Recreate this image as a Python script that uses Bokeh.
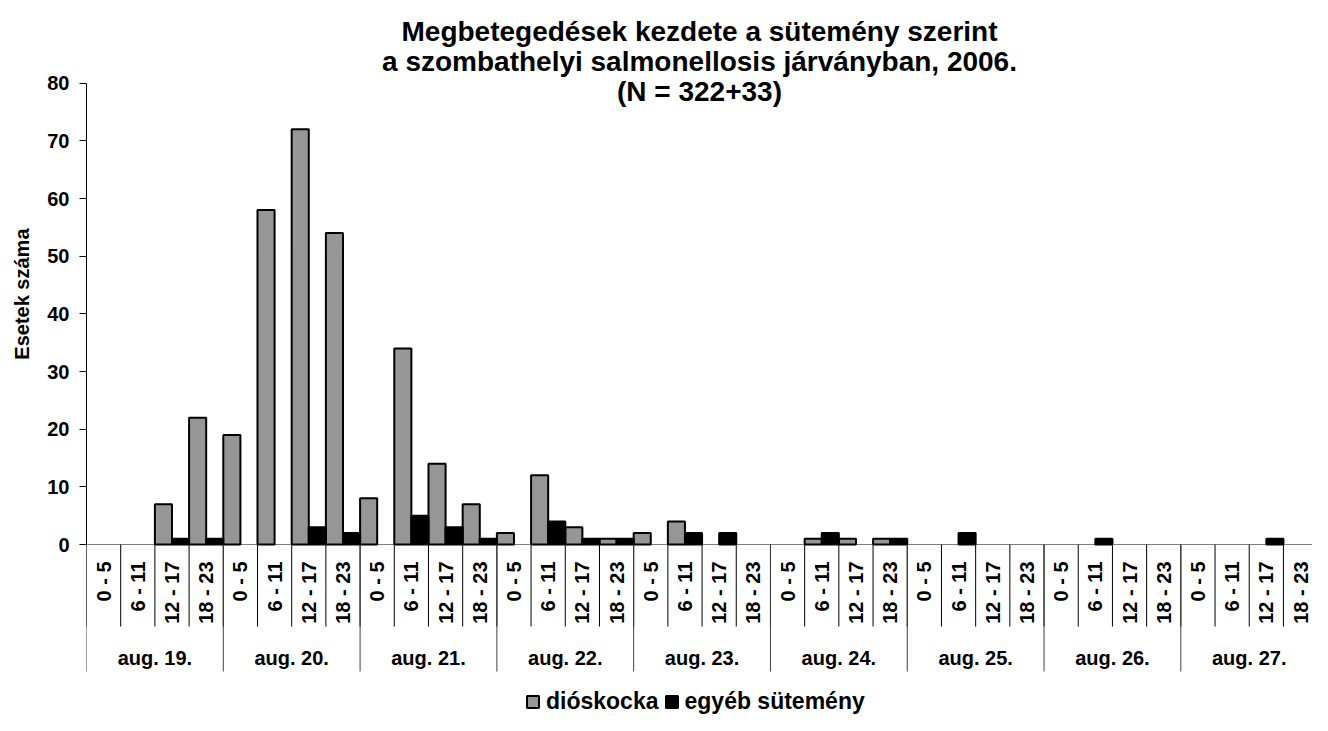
import math
from bokeh.plotting import figure
from bokeh.models import (ColumnDataSource, Range1d, FixedTicker, Legend,
                          LegendItem, Span, Title)
from bokeh.core.properties import value
from bokeh.embed import file_html
from bokeh.resources import INLINE

# ---------------- data ----------------
days = ["aug. 19.", "aug. 20.", "aug. 21.", "aug. 22.", "aug. 23.",
        "aug. 24.", "aug. 25.", "aug. 26.", "aug. 27."]
slots = ["0 - 5", "6 - 11", "12 - 17", "18 - 23"]
dioskocka = [0, 0, 7, 22,   19, 58, 72, 54,   8, 34, 14, 7,   2, 12, 3, 1,
             2, 4, 0, 0,    0, 1, 1, 1,       0, 0, 0, 0,     0, 0, 0, 0,
             0, 0, 0, 0]
egyeb = [0, 0, 1, 1,   0, 0, 3, 2,   0, 5, 3, 1,   0, 4, 1, 1,
         0, 2, 2, 0,   0, 2, 0, 1,   0, 2, 0, 0,   0, 1, 0, 0,
         0, 0, 1, 0]
series_names = ["dióskocka", "egyéb sütemény"]
y_ticks = [0, 10, 20, 30, 40, 50, 60, 70, 80]
title_lines = ["Megbetegedések kezdete a sütemény szerint",
               "a szombathelyi salmonellosis járványban, 2006.",
               "(N = 322+33)"]
y_label = "Esetek száma"

# ---------------- style ----------------
FONT = "Liberation Sans"
GRAY = "#969696"
n = len(dioskocka)
per_day = len(slots)
y_max = y_ticks[-1]

W, H = 1312, 715
LEFT = 86
ZERO_PX = 544.0
PX_PER_UNIT = (ZERO_PX - 82.7) / y_max
X_END = 35.85


def ypos(px):
    """convert a vertical pixel position in the figure to a data value"""
    return (ZERO_PX - px) / PX_PER_UNIT


p = figure(width=W, height=H,
           x_range=Range1d(0, X_END),
           y_range=Range1d(ypos(H), ypos(0)),
           x_axis_type=None, output_backend="svg", toolbar_location=None,
           min_border_left=LEFT, min_border_right=0, min_border_top=0,
           min_border_bottom=0)
p.xgrid.visible = False
p.ygrid.visible = False
p.outline_line_color = None
p.background_fill_color = "white"
p.border_fill_color = "white"

yax = p.yaxis[0]
yax.ticker = FixedTicker(ticks=y_ticks)
yax.bounds = (0, y_max)
yax.major_tick_out = 7
yax.major_tick_in = 0
yax.minor_tick_out = 0
yax.minor_tick_in = 0
yax.axis_line_color = "black"
yax.major_tick_line_color = "black"
yax.major_label_text_font = FONT
yax.major_label_text_font_size = "20px"
yax.major_label_text_font_style = "bold"
yax.major_label_text_color = "black"
yax.major_label_standoff = 10

# y axis title, placed on the left side next to the axis
p.add_layout(Title(text=y_label, align="right", offset=228,
                   vertical_align="top", standoff=20,
                   text_font=FONT, text_font_size="20px",
                   text_font_style="bold", text_color="black"), "left")

# baseline
p.add_layout(Span(location=0, dimension="width", line_color="#808080",
                  line_width=1, level="underlay"))

# bars
idx = list(range(n))
src = ColumnDataSource(dict(
    x1=[i + 0.25 for i in idx], x2=[i + 0.75 for i in idx],
    d=dioskocka, e=egyeb,
    da=[1.0 if v > 0 else 0.0 for v in dioskocka],
    ea=[1.0 if v > 0 else 0.0 for v in egyeb],
))
r1 = p.vbar(x="x1", top="d", bottom=0, width=0.5, source=src,
            fill_color=GRAY, line_color="black", line_width=2, line_alpha="da")
r2 = p.vbar(x="x2", top="e", bottom=0, width=0.5, source=src,
            fill_color="black", line_color="black", line_width=2, line_alpha="ea")

# category separators
bounds_all = list(range(n + 1))
p.segment(x0=bounds_all, y0=[0] * len(bounds_all), x1=bounds_all,
          y1=[ypos(626)] * len(bounds_all), line_color="black", line_width=1)
bounds_day = list(range(0, n + 1, per_day))
p.segment(x0=bounds_day, y0=[0] * len(bounds_day), x1=bounds_day,
          y1=[ypos(671)] * len(bounds_day), line_color="#404040", line_width=1)

# slot labels
p.text(x=[i + 0.5 for i in idx], y=[ypos(561)] * n,
       text=[slots[i % per_day] for i in idx], angle=math.pi / 2,
       text_align="right", text_baseline="middle",
       text_font=value(FONT), text_font_size="20px", text_font_style="bold",
       text_color="black")
# day labels
p.text(x=[d * per_day + per_day / 2 for d in range(len(days))],
       y=[ypos(657)] * len(days), text=days, text_align="center",
       text_baseline="middle", text_font=value(FONT), text_font_size="20px",
       text_font_style="bold", text_color="black")

# title
xc = (p.x_range.start + p.x_range.end) / 2
p.text(x=[xc] * 3, y=[ypos(31), ypos(61), ypos(91)], text=title_lines,
       text_align="center", text_baseline="alphabetic",
       text_font=value(FONT), text_font_size="28px", text_font_style="bold",
       text_color="black")

# legend
i_d = next(i for i, v in enumerate(dioskocka) if v > 0)
i_e = next(i for i, v in enumerate(egyeb) if v > 0)
legend = Legend(items=[LegendItem(label=series_names[0], renderers=[r1], index=i_d),
                       LegendItem(label=series_names[1], renderers=[r2], index=i_e)],
                orientation="horizontal", location=(525 - LEFT, 0),
                margin=0, padding=0, spacing=5, glyph_width=15, glyph_height=15,
                label_standoff=6, label_height=22, label_text_font=FONT,
                label_text_font_size="23px", label_text_font_style="bold",
                label_text_color="black",
                border_line_color=None, background_fill_alpha=0)
p.add_layout(legend)

open("out.html", "w").write(file_html(p, INLINE))
